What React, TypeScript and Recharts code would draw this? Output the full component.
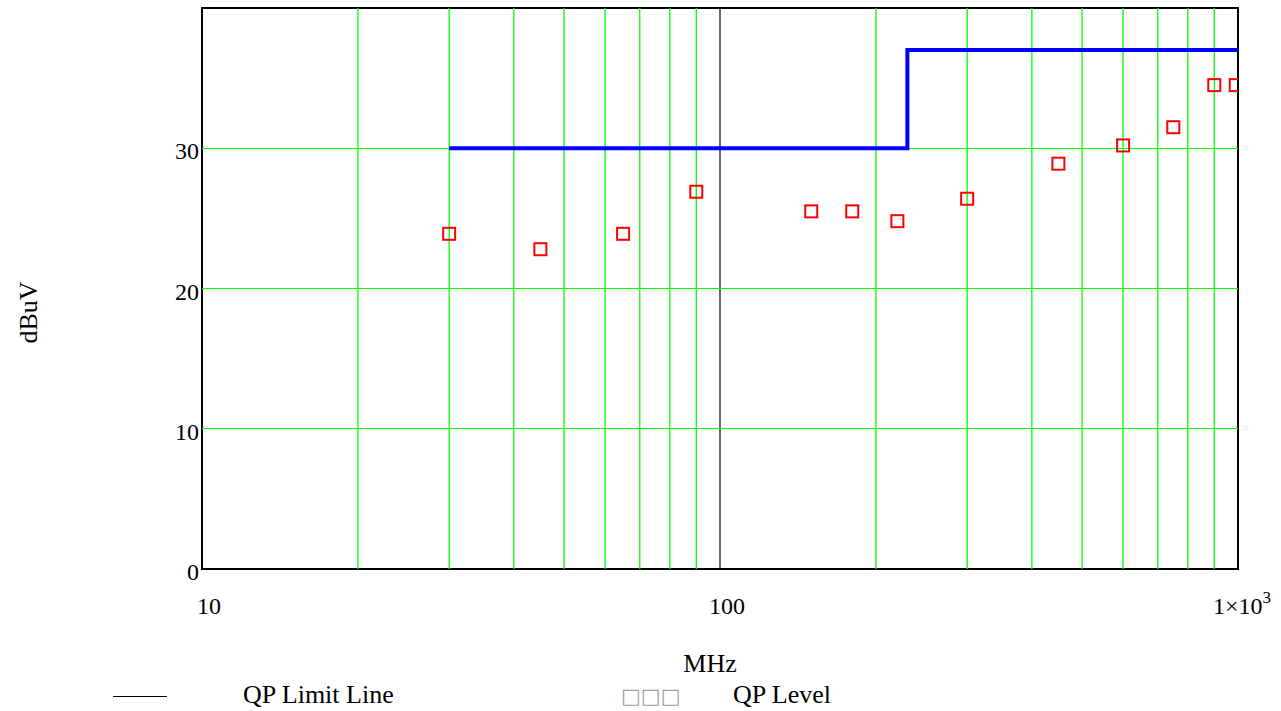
import React from "react";
import {
  ComposedChart,
  Line,
  Scatter,
  XAxis,
  YAxis,
  ReferenceLine,
  ReferenceArea,
} from "recharts";

// axis ticks
const freqTicks = [10, 100, 1000];
const levelTicks = [0, 10, 20, 30];

// grid lines
const minorFreqs = [20, 30, 40, 50, 60, 70, 80, 90, 200, 300, 400, 500, 600, 700, 800, 900];
const majorFreqs = [100];
const gridLevels = [10, 20, 30];

// QP limit line (step)
const limitFreq = [30, 230, 230, 1000];
const limitLevel = [30, 30, 37, 37];

// QP measured level
const qpFreq = [30, 45, 65, 90, 150, 180, 220, 300, 450, 600, 750, 900, 990];
const qpLevel = [23.9, 22.8, 23.9, 26.9, 25.5, 25.5, 24.8, 26.4, 28.9, 30.2, 31.5, 34.5, 34.5];

const limitData = limitFreq.map((f, i) => ({ f, limit: limitLevel[i] }));
const qpData = qpFreq.map((f, i) => ({ f, qp: qpLevel[i] }));

const FONT = '"Liberation Serif", "Times New Roman", serif';

const FreqTick = ({ x, y, payload }: any) => {
  const v = payload.value;
  if (v === 1000) {
    return (
      <text x={x + 4} y={y + 45} textAnchor="middle" fontFamily={FONT} fontSize={24} fill="#000">
        <tspan>1×10</tspan>
        <tspan dy={-11} fontSize={17}>3</tspan>
      </text>
    );
  }
  return (
    <text x={x + 7} y={y + 45} textAnchor="middle" fontFamily={FONT} fontSize={24} fill="#000">
      {v}
    </text>
  );
};

const LevelTick = ({ x, y, payload }: any) => (
  <text x={x} y={y + 11} textAnchor="end" fontFamily={FONT} fontSize={24} fill="#000">
    {payload.value}
  </text>
);

const Square = (props: any) => {
  const { cx, cy } = props;
  return <rect x={cx - 6} y={cy - 6} width={12} height={12} fill="none" stroke="#ff0000" strokeWidth={2} />;
};

const XTitle = ({ viewBox }: any) => (
  <text x={viewBox.x + viewBox.width / 2 - 10} y={viewBox.y + 103} textAnchor="middle" fontFamily={FONT} fontSize={26}>
    MHz
  </text>
);

const YTitle = ({ viewBox }: any) => {
  const cx = viewBox.x + 37;
  const cy = viewBox.y + viewBox.height / 2 + 24;
  return (
    <text x={cx} y={cy} transform={`rotate(-90 ${cx} ${cy})`} textAnchor="middle" fontFamily={FONT} fontSize={26}>
      dBuV
    </text>
  );
};

const LegendOverlay = () => (
  <svg width={1281} height={711} style={{ position: "absolute", left: 0, top: 0, pointerEvents: "none" }}>
    <line x1={113} x2={167} y1={696.5} y2={696.5} stroke="#000" strokeWidth={1} shapeRendering="crispEdges" />
    <text x={243} y={703} fontFamily={FONT} fontSize={26}>QP Limit Line</text>
    <text x={621} y={703} fontFamily='"DejaVu Sans", sans-serif' fontSize={21} fill="#a0a0a0">□□□</text>
    <text x={733} y={703} fontFamily={FONT} fontSize={26}>QP Level</text>
  </svg>
);

export default function App() {
  return (
    <div style={{ position: "absolute", left: 0, top: 0, width: 1281, height: 711, background: "#fff" }}>
      <ComposedChart width={1281} height={711} margin={{ top: 8, right: 43, bottom: 0, left: 0 }}>
        <XAxis
          dataKey="f"
          type="number"
          scale="log"
          domain={[10, 1000]}
          ticks={freqTicks}
          allowDataOverflow
          height={142}
          axisLine={false}
          tickLine={false}
          tickSize={0}
          tickMargin={0}
          tick={<FreqTick />}
          label={<XTitle />}
        />
        <YAxis
          type="number"
          domain={[0, 40]}
          ticks={levelTicks}
          allowDataOverflow
          width={202}
          axisLine={false}
          tickLine={false}
          tickSize={0}
          tickMargin={3}
          tick={<LevelTick />}
          label={<YTitle />}
        />
        {minorFreqs.map((f) => (
          <ReferenceLine key={`v${f}`} x={f} stroke="#00ff00" strokeWidth={1.3} />
        ))}
        {majorFreqs.map((f) => (
          <ReferenceLine key={`m${f}`} x={f} stroke="#000" strokeWidth={1.2} />
        ))}
        {gridLevels.map((l) => (
          <ReferenceLine key={`h${l}`} y={l} stroke="#00ff00" strokeWidth={1} shapeRendering="crispEdges" />
        ))}
        <Line
          data={limitData}
          dataKey="limit"
          type="linear"
          stroke="#0000ff"
          strokeWidth={4}
          dot={false}
          activeDot={false}
          isAnimationActive={false}
        />
        <Scatter data={qpData} dataKey="qp" shape={<Square />} isAnimationActive={false} />
        <ReferenceArea x1={10} x2={1000} y1={0} y2={40} fill="none" stroke="#000" strokeWidth={2} fillOpacity={0} />
      </ComposedChart>
      <LegendOverlay />
    </div>
  );
}
